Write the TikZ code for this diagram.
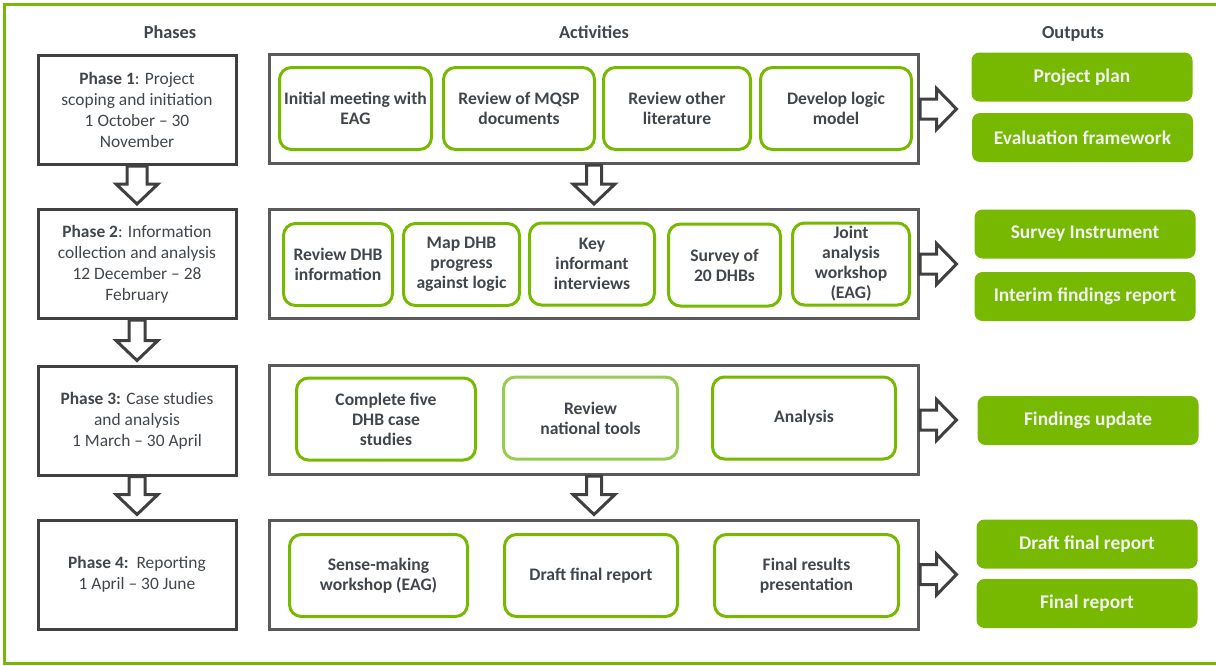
\documentclass[tikz,border=0pt]{standalone}
\usepackage{fontspec}
\setmainfont{Carlito}
\usepackage{tikz}
\usetikzlibrary{calc}
\definecolor{nvgreen}{RGB}{118,185,0}
\definecolor{ltgreen}{RGB}{150,205,80}
\definecolor{dkgray}{RGB}{64,64,64}
\definecolor{rowgray}{RGB}{90,90,90}
\definecolor{txgray}{RGB}{64,70,76}
\newcommand{\dnarr}[3]{\draw[harr] let \p1=(#1.south), \p2=(#2.north) in
  (\x1-#3,\y1) -- (\x1-#3,\y2+24pt) -- (\x1-21pt,\y2+24pt) -- (\x1,\y2+4pt)
  -- (\x1+21pt,\y2+24pt) -- (\x1+#3,\y2+24pt) -- (\x1+#3,\y1) -- cycle;}
\newcommand{\rtarr}[1]{\draw[harr] let \p1=(#1.east) in
  (\x1,\y1+10pt) -- (\x1+16.5pt,\y1+10pt) -- (\x1+16.5pt,\y1+20.5pt) -- (\x1+36.5pt,\y1)
  -- (\x1+16.5pt,\y1-20.5pt) -- (\x1+16.5pt,\y1-10pt) -- (\x1,\y1-10pt) -- cycle;}
\tikzset{
  hdr/.style={font=\fontsize{18.3}{20}\selectfont\bfseries, text=txgray, anchor=base},
  phase/.style={draw=dkgray, line width=3pt, minimum width=198pt, minimum height=109pt, align=center, text=txgray, font=\fontsize{17.4}{21}\selectfont, inner sep=0pt},
  actrow/.style={draw=rowgray, line width=3pt, minimum width=649pt, minimum height=109pt},
  act/.style={draw=nvgreen, line width=3pt, rounded corners=12pt, align=center, text=txgray, font=\fontsize{17.6}{20}\selectfont\bfseries, minimum height=82pt, inner sep=0pt},
  outbox/.style={fill=nvgreen, rounded corners=8pt, minimum width=221pt, minimum height=49pt, text=white!95!black, font=\fontsize{19.4}{21}\selectfont\bfseries},
  harr/.style={draw=dkgray, line width=3pt, fill=white, line join=miter}
}
\begin{document}
\begin{tikzpicture}[x=1pt, y=-1pt]
\useasboundingbox (0,0) rectangle (1216,665);
\draw[nvgreen, line width=3pt] (1216,4) -- (4.5,4) -- (4.5,663.5) -- (1216,663.5);
\node[hdr] (hph) at (170,38) {Phases};
\node[hdr] (hac) at (594,38) {Activities};
\node[hdr] (hou) at (1073,38) {Outputs};

\node[phase] (p1) at (137,110) {\textbf{Phase 1}: Project\\scoping and initiation\\1 October – 30\\November};
\node[phase] (p2) at (137,264) {\textbf{Phase 2}: Information\\collection and analysis\\12 December – 28\\February};
\node[phase] (p3) at (137,420.5) {\textbf{Phase 3:} Case studies\\and analysis\\1 March – 30 April};
\node[phase] (p4) at (137,574.5) {\textbf{Phase 4:}\ \ Reporting\\1 April – 30 June};

\node[actrow] (r1) at (594,109) {};
\node[actrow] (r2) at (594,264) {};
\node[actrow] (r3) at (594,420) {};
\node[actrow] (r4) at (594,574.5) {};

\node[act, minimum width=152pt] (a11) at (355.5,108.5) {Initial meeting with\\EAG};
\node[act, minimum width=151pt] (a12) at (519,108.5) {Review of MQSP\\documents};
\node[act, minimum width=147pt] (a13) at (677,108.5) {Review other\\literature};
\node[act, minimum width=151pt] (a14) at (836,108.5) {Develop logic\\model};

\node[act, minimum width=109pt] (a21) at (338,264.5) {Review DHB\\information};
\node[act, minimum width=116pt] (a22) at (461.5,264.5) {Map DHB\\progress\\against logic};
\node[act, minimum width=125pt] (a23) at (592,264) {Key\\informant\\interviews};
\node[act, minimum width=112pt] (a24) at (724.5,265) {Survey of\\20 DHBs};
\node[act, minimum width=117pt] (a25) at (851,264) {Joint\\analysis\\workshop\\(EAG)};

\node[act, minimum width=179pt] (a31) at (386,419) {Complete five\\DHB case\\studies};
\node[act, minimum width=174pt, draw=ltgreen] (a32) at (590.5,418) {Review\\national tools};
\node[act, minimum width=183pt] (a33) at (804,418) {Analysis};

\node[act, minimum width=178pt] (a41) at (378.5,575.5) {Sense-making\\workshop (EAG)};
\node[act, minimum width=173pt] (a42) at (591,575.5) {Draft final report};
\node[act, minimum width=184pt] (a43) at (806.5,575.5) {Final results\\presentation};

\node[outbox] (o1) at (1082,77) {Project plan};
\node[outbox] (o2) at (1082.5,137.5) {Evaluation framework};
\node[outbox] (o3) at (1085,234) {Survey Instrument};
\node[outbox] (o4) at (1085,296.5) {Interim findings report};
\node[outbox] (o5) at (1088,420.5) {Findings update};
\node[outbox] (o6) at (1087,544) {Draft final report};
\node[outbox] (o7) at (1087,603.5) {Final report};

\dnarr{p1}{p2}{10pt}
\dnarr{p2}{p3}{8pt}
\dnarr{p3}{p4}{8pt}
\dnarr{r1}{r2}{7.5pt}
\dnarr{r3}{r4}{7.5pt}
\rtarr{r1}
\rtarr{r2}
\rtarr{r3}
\rtarr{r4}
\end{tikzpicture}
\end{document}
